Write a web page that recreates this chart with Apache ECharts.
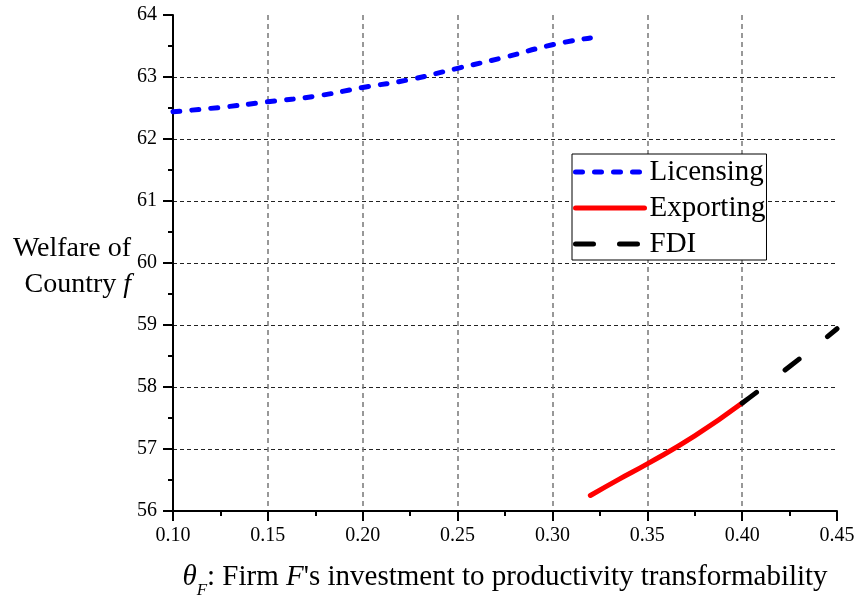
<!DOCTYPE html>
<html>
<head>
<meta charset="utf-8">
<script src="https://cdn.jsdelivr.net/npm/echarts@6/dist/echarts.min.js"></script>
<style>
  html, body { margin: 0; padding: 0; background: #fff; }
  #chart { width: 856px; height: 601px; }
</style>
</head>
<body>
<div id="chart"></div>
<script>
// Welfare of country f against theta_F, one curve per entry mode
const licensingTheta = [0.10, 0.125, 0.15, 0.175, 0.20, 0.225, 0.25, 0.275, 0.30, 0.32];
const licensingWelfare = [62.44, 62.51, 62.60, 62.69, 62.83, 62.96, 63.14, 63.32, 63.52, 63.63];

const exportingTheta = [0.32, 0.335, 0.35, 0.375, 0.40];
const exportingWelfare = [56.25, 56.51, 56.76, 57.21, 57.74];

const fdiTheta = [0.40, 0.41, 0.42, 0.43, 0.44, 0.45];
const fdiWelfare = [57.74, 57.97, 58.21, 58.45, 58.69, 58.94];

const seriesNames = ['Licensing', 'Exporting', 'FDI'];
const seriesColors = ['#0000ff', '#ff0000', '#000000'];

const xTicks = [0.10, 0.15, 0.20, 0.25, 0.30, 0.35, 0.40, 0.45];
const yTicks = [56, 57, 58, 59, 60, 61, 62, 63, 64];

const pairs = (xs, ys) => xs.map((x, i) => [x, ys[i]]);
const FONT = '"Liberation Serif", "Times New Roman", serif';

const chart = echarts.init(document.getElementById('chart'), null, { renderer: 'canvas' });

const lineSeries = (name, data, color, dash) => ({
  name: name,
  type: 'line',
  data: data,
  smooth: true,
  showSymbol: false,
  symbol: 'none',
  animation: false,
  lineStyle: { color: color, width: 5, type: dash, cap: 'round' },
  itemStyle: { color: color }
});

chart.setOption({
  backgroundColor: '#fff',
  animation: false,
  grid: { left: 173, right: 19, top: 15, bottom: 90, containLabel: false, outerBoundsMode: 'none' },
  legend: {
    orient: 'vertical',
    left: 572,
    top: 154,
    padding: [3, 1, 1, 1],
    itemGap: 6,
    itemWidth: 69,
    itemHeight: 20,
    backgroundColor: '#fff',
    borderColor: '#000',
    borderWidth: 1,
    borderRadius: 0,
    selectedMode: false,
    itemStyle: { opacity: 0, borderWidth: 0 },
    textStyle: { fontFamily: FONT, fontSize: 29, color: '#000', lineHeight: 30 },
    data: [
      { name: seriesNames[0], lineStyle: { type: [7, 12], width: 5, cap: 'round' } },
      { name: seriesNames[1], lineStyle: { type: 'solid', width: 5, cap: 'round' } },
      { name: seriesNames[2], lineStyle: { type: [18, 26], width: 5, cap: 'round' } }
    ]
  },
  xAxis: {
    type: 'value',
    min: xTicks[0],
    max: xTicks[xTicks.length - 1],
    interval: 0.05,
    name: '{th|θ}{sub|F}{n|: Firm }{it|F}{n|\'s investment to productivity transformability}',
    nameLocation: 'middle',
    nameGap: 44,
    nameTextStyle: {
      fontFamily: FONT,
      color: '#000',
      rich: {
        th: { fontFamily: FONT, fontSize: 29, fontStyle: 'italic', color: '#000', lineHeight: 44, verticalAlign: 'middle' },
        sub: { fontFamily: FONT, fontSize: 17, fontStyle: 'italic', color: '#000', lineHeight: 44, verticalAlign: 'bottom' },
        n: { fontFamily: FONT, fontSize: 29, color: '#000', lineHeight: 44, verticalAlign: 'middle' },
        it: { fontFamily: FONT, fontSize: 29, fontStyle: 'italic', color: '#000', lineHeight: 44, verticalAlign: 'middle' }
      }
    },
    axisLine: { show: true, onZero: false, lineStyle: { color: '#000', width: 2 } },
    axisTick: { show: true, inside: false, length: 10, lineStyle: { color: '#000', width: 2 } },
    minorTick: { show: true, splitNumber: 2, length: 5, lineStyle: { color: '#000', width: 2 } },
    axisLabel: {
      margin: 15,
      fontFamily: FONT,
      fontSize: 20,
      color: '#000',
      formatter: v => v.toFixed(2)
    },
    splitLine: {
      show: true,
      showMinLine: false,
      showMaxLine: false,
      lineStyle: { color: '#777', width: 1.5, type: [5, 4] }
    }
  },
  yAxis: {
    type: 'value',
    min: yTicks[0],
    max: yTicks[yTicks.length - 1],
    interval: 1,
    name: '{n|Welfare of}\n{n|Country }{it|f}',
    nameLocation: 'middle',
    nameRotate: 0,
    nameGap: 40,
    nameTextStyle: {
      fontFamily: FONT,
      color: '#000',
      align: 'right',
      padding: [8, 0, 0, 0],
      rich: {
        n: { fontFamily: FONT, fontSize: 28, color: '#000', lineHeight: 36 },
        it: { fontFamily: FONT, fontSize: 28, fontStyle: 'italic', color: '#000', lineHeight: 36 }
      }
    },
    axisLine: { show: true, onZero: false, lineStyle: { color: '#000', width: 2 } },
    axisTick: { show: true, inside: false, length: 10, lineStyle: { color: '#000', width: 2 } },
    minorTick: { show: true, splitNumber: 2, length: 5, lineStyle: { color: '#000', width: 2 } },
    axisLabel: { margin: 16, fontFamily: FONT, fontSize: 20, color: '#000' },
    splitLine: {
      show: true,
      showMinLine: false,
      showMaxLine: false,
      lineStyle: { color: '#222', width: 1, type: [4, 3] }
    }
  },
  series: [
    lineSeries(seriesNames[0], pairs(licensingTheta, licensingWelfare), seriesColors[0], [7, 12]),
    lineSeries(seriesNames[1], pairs(exportingTheta, exportingWelfare), seriesColors[1], 'solid'),
    lineSeries(seriesNames[2], pairs(fdiTheta, fdiWelfare), seriesColors[2], [18, 36])
  ]
});
</script>
</body>
</html>
